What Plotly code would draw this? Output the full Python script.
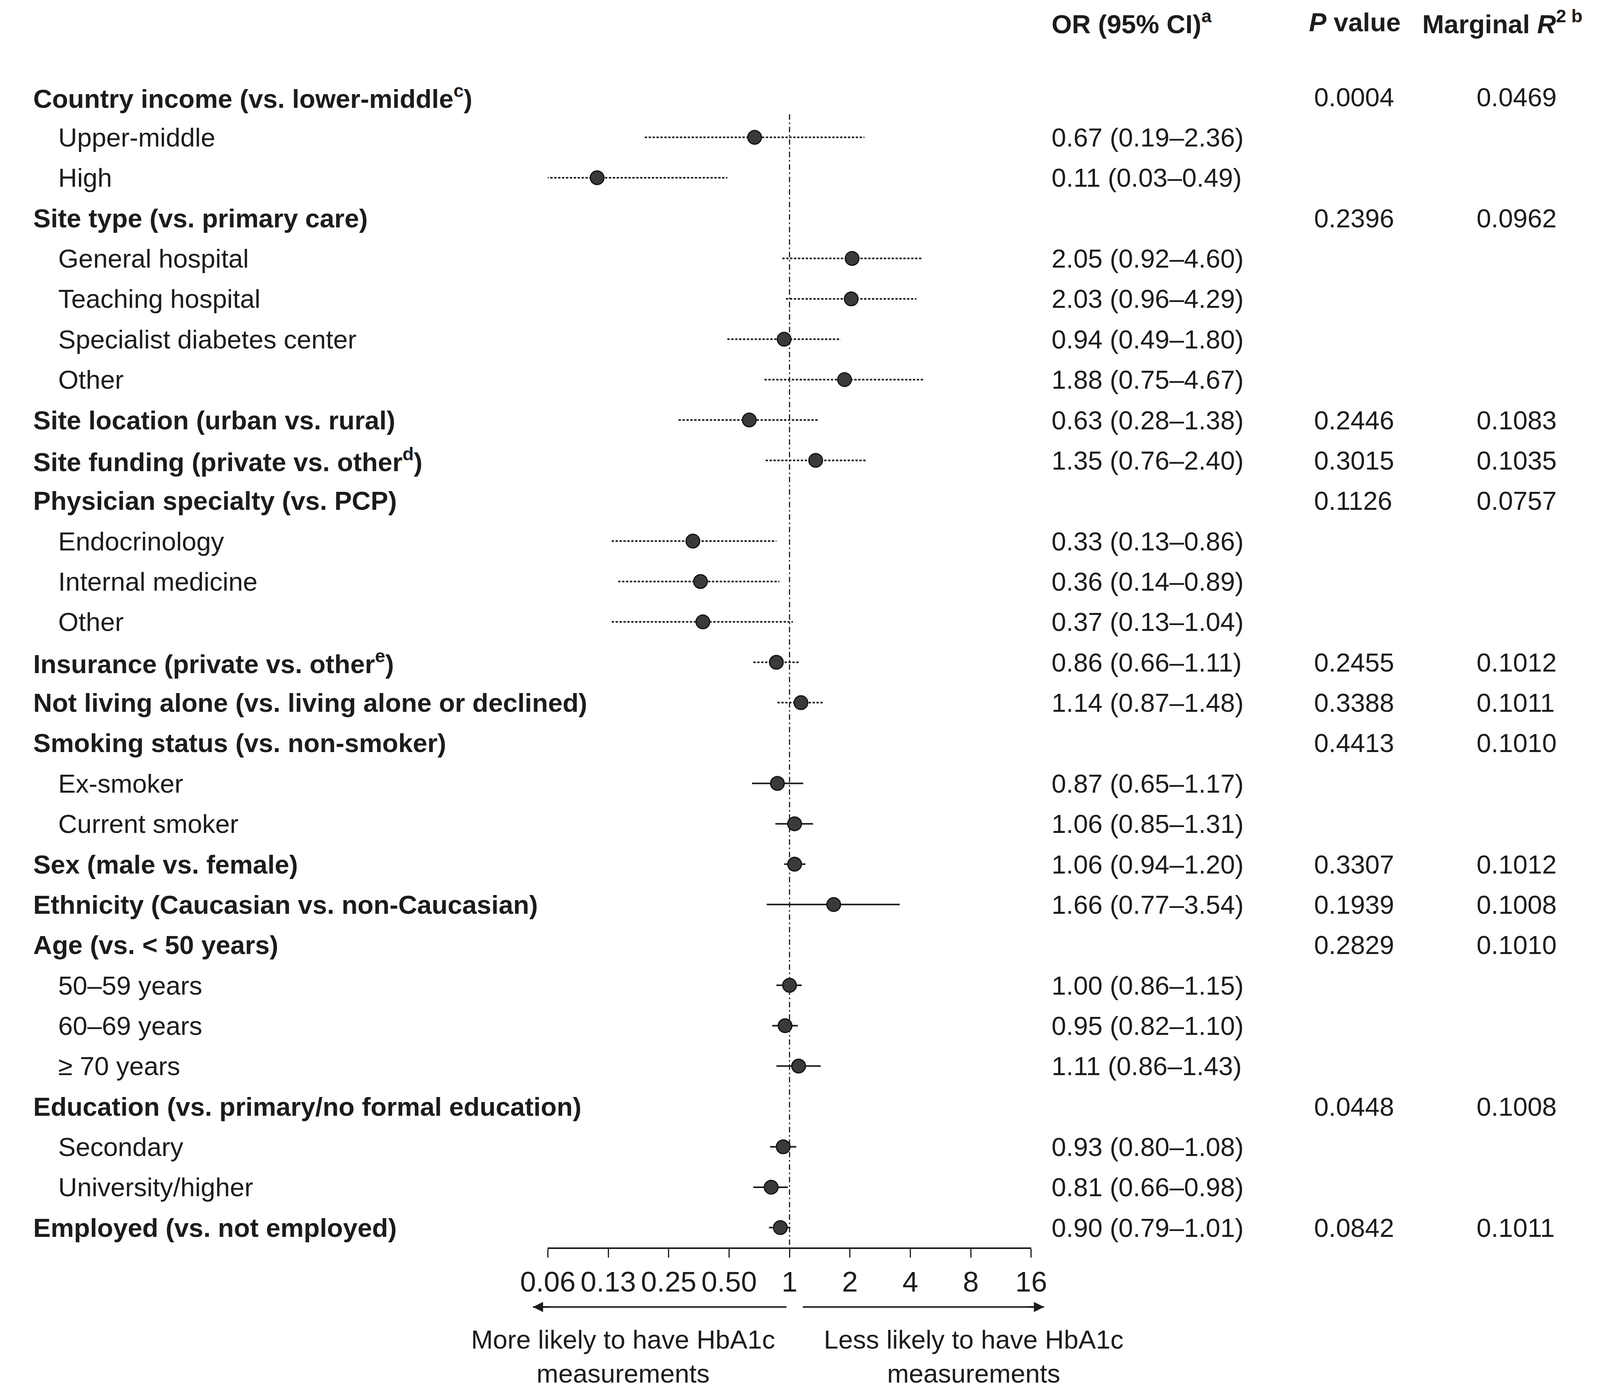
import math
import plotly.graph_objects as go

# rows of the forest plot, top to bottom
labels = [
    "Country income (vs. lower-middle<sup>c</sup>)", "Upper-middle", "High",
    "Site type (vs. primary care)", "General hospital", "Teaching hospital",
    "Specialist diabetes center", "Other",
    "Site location (urban vs. rural)", "Site funding (private vs. other<sup>d</sup>)",
    "Physician specialty (vs. PCP)", "Endocrinology", "Internal medicine", "Other",
    "Insurance (private vs. other<sup>e</sup>)",
    "Not living alone (vs. living alone or declined)",
    "Smoking status (vs. non-smoker)", "Ex-smoker", "Current smoker",
    "Sex (male vs. female)", "Ethnicity (Caucasian vs. non-Caucasian)",
    "Age (vs. < 50 years)", "50–59 years", "60–69 years", "≥ 70 years",
    "Education (vs. primary/no formal education)", "Secondary", "University/higher",
    "Employed (vs. not employed)",
]
is_header = [1, 0, 0, 1, 0, 0, 0, 0, 1, 1, 1, 0, 0, 0, 1, 1, 1, 0, 0, 1, 1, 1, 0, 0, 0, 1, 0, 0, 1]
odds = [None, 0.67, 0.11, None, 2.05, 2.03, 0.94, 1.88, 0.63, 1.35, None, 0.33, 0.36, 0.37,
        0.86, 1.14, None, 0.87, 1.06, 1.06, 1.66, None, 1.00, 0.95, 1.11, None, 0.93, 0.81, 0.90]
ci_low = [None, 0.19, 0.03, None, 0.92, 0.96, 0.49, 0.75, 0.28, 0.76, None, 0.13, 0.14, 0.13,
          0.66, 0.87, None, 0.65, 0.85, 0.94, 0.77, None, 0.86, 0.82, 0.86, None, 0.80, 0.66, 0.79]
ci_high = [None, 2.36, 0.49, None, 4.60, 4.29, 1.80, 4.67, 1.38, 2.40, None, 0.86, 0.89, 1.04,
           1.11, 1.48, None, 1.17, 1.31, 1.20, 3.54, None, 1.15, 1.10, 1.43, None, 1.08, 0.98, 1.01]
p_values = ["0.0004", "", "", "0.2396", "", "", "", "", "0.2446", "0.3015", "0.1126", "", "", "",
            "0.2455", "0.3388", "0.4413", "", "", "0.3307", "0.1939", "0.2829", "", "", "",
            "0.0448", "", "", "0.0842"]
r2_values = ["0.0469", "", "", "0.0962", "", "", "", "", "0.1083", "0.1035", "0.0757", "", "", "",
             "0.1012", "0.1011", "0.1010", "", "", "0.1012", "0.1008", "0.1010", "", "", "",
             "0.1008", "", "", "0.1011"]
# site/physician level rows are drawn with dotted CI lines
dotted_ci = [0, 1, 1, 0, 1, 1, 1, 1, 1, 1, 0, 1, 1, 1, 1, 1, 0, 0, 0, 0, 0, 0, 0, 0, 0, 0, 0, 0, 0]

tick_vals = [0.0625, 0.125, 0.25, 0.5, 1, 2, 4, 8, 16]
tick_text = ["0.06", "0.13", "0.25", "0.50", "1", "2", "4", "8", "16"]

FONT = "Liberation Sans, Arial, sans-serif"
FS = 67
INK = "#1c1c1c"

# vertical layout as fractions of the page height
row0_frac, row_step_frac, axis_frac = 0.0675, 0.02905, 0.8951
y_top = -row0_frac / row_step_frac
y_bot = (axis_frac - row0_frac) / row_step_frac

x_dom = [0.3322, 0.6428]
x_lo, x_hi = math.log10(0.0625), math.log10(16)


def or_to_paper(v):
    # position on the page of an OR value (given as log10) along the x axis
    return x_dom[0] + (v - x_lo) / (x_hi - x_lo) * (x_dom[1] - x_dom[0])


fig = go.Figure()

# confidence interval lines
for style, dash in ((1, "6px,4px"), (0, "solid")):
    xs, ys = [], []
    for i, o in enumerate(odds):
        if o is None or dotted_ci[i] != style:
            continue
        xs += [ci_low[i], ci_high[i], None]
        ys += [i, i, None]
    fig.add_trace(go.Scatter(
        x=xs, y=ys, mode="lines", hoverinfo="skip", showlegend=False,
        line=dict(color=INK, width=4, dash=dash)))

# point estimates
mx = [o for o in odds if o is not None]
my = [i for i, o in enumerate(odds) if o is not None]
fig.add_trace(go.Scatter(
    x=mx, y=my, mode="markers", showlegend=False,
    marker=dict(symbol="circle", size=35, color="#3a3a3a",
                line=dict(color="#111111", width=3))))

# reference line at OR = 1
fig.add_shape(type="line", xref="x", yref="y", x0=1, x1=1, y0=0.43, y1=y_bot,
              line=dict(color=INK, width=3, dash="14px,7px,4px,7px"), layer="below")

ann = []
x_head, x_sub, x_or, x_p, x_r2 = 0.001, 0.0171, 0.6553, 0.824, 0.9284


def txt(x, y, text, bold=False, xanchor="left"):
    ann.append(dict(x=x, y=y, xref="paper", yref="y", text=f"<b>{text}</b>" if bold else text,
                    showarrow=False, xanchor=xanchor, yanchor="middle",
                    font=dict(family=FONT, size=FS, color=INK)))


# column headers
hy = -1.85
txt(x_or, hy, "OR (95% CI)<sup>a</sup>", bold=True)
txt(0.8208, hy, "<i>P</i> value", bold=True)
txt(0.8935, hy, "Marginal <i>R</i><sup>2 b</sup>", bold=True)

for i, lab in enumerate(labels):
    if is_header[i]:
        txt(x_head, i, lab, bold=True)
    else:
        txt(x_sub, i, lab)
    if odds[i] is not None:
        txt(x_or, i, f"{odds[i]:.2f} ({ci_low[i]:.2f}–{ci_high[i]:.2f})")
    if p_values[i]:
        txt(x_p, i, p_values[i])
    if r2_values[i]:
        txt(x_r2, i, r2_values[i])

# direction arrows under the axis
arrow_y = 0.062
for head, tail, push in ((-1.2785, -0.0153, 45), (1.268, 0.0662, -45)):
    hx, tx = or_to_paper(head), or_to_paper(tail)
    fig.add_shape(type="line", xref="paper", yref="paper", x0=tx, x1=hx, y0=arrow_y, y1=arrow_y,
                  line=dict(color=INK, width=4))
    ann.append(dict(x=hx, y=arrow_y, ax=push, ay=0, xref="paper", yref="paper",
                    text="", showarrow=True, arrowhead=2, arrowsize=1.3,
                    arrowwidth=4, arrowcolor=INK))
for xc, t in ((-0.830, "More likely to have HbA1c<br>measurements"),
              (0.917, "Less likely to have HbA1c<br>measurements")):
    ann.append(dict(x=or_to_paper(xc), y=0.0265, xref="paper", yref="paper", text=t,
                    showarrow=False, xanchor="center", yanchor="middle", align="center",
                    font=dict(family=FONT, size=FS, color=INK)))

fig.update_layout(
    autosize=True,
    margin=dict(l=0, r=0, t=0, b=0),
    paper_bgcolor="white", plot_bgcolor="white",
    annotations=ann,
    xaxis=dict(type="log", range=[x_lo, x_hi], domain=x_dom,
               tickvals=tick_vals, ticktext=tick_text,
               showline=True, linecolor=INK, linewidth=4,
               ticks="outside", ticklen=22, tickwidth=3, tickcolor=INK,
               showgrid=False, zeroline=False,
               tickfont=dict(family=FONT, size=73, color=INK)),
    yaxis=dict(range=[y_bot, y_top], domain=[1 - axis_frac, 1],
               visible=False, showgrid=False, zeroline=False),
)

fig.write_html("out.html", default_width="100vw", default_height="100vh")
